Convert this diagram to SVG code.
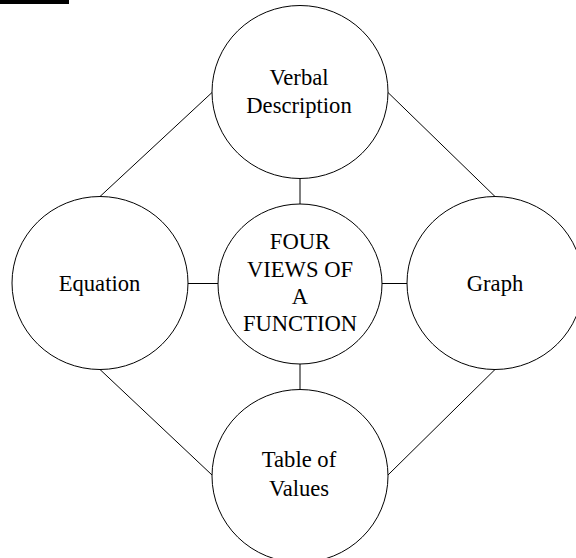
<svg xmlns="http://www.w3.org/2000/svg" width="576" height="558" viewBox="0 0 576 558">
<style>
.n{fill:#fff;stroke:#000;stroke-width:1}
.t{font-family:"Liberation Serif","Times New Roman",serif;font-size:22.6px;fill:#000;text-anchor:middle}
.c line{stroke:#000;stroke-width:1}
</style>
<rect x="0" y="0" width="576" height="558" fill="#fff"/>
<rect x="0" y="0" width="69" height="4" fill="#000"/>
<g class="c" id="connectors">
<line x1="300" y1="178.5" x2="300" y2="204"/>
<line x1="218" y1="283.5" x2="188" y2="283.5"/>
<line x1="382" y1="283.5" x2="407" y2="283.5"/>
<line x1="300" y1="364" x2="300" y2="389.5"/>
<line x1="212" y1="92.5" x2="100" y2="196.5"/>
<line x1="388" y1="92.5" x2="495" y2="196.5"/>
<line x1="100" y1="369.5" x2="212" y2="475"/>
<line x1="495" y1="369.5" x2="388" y2="475"/>
</g>
<g id="verbal">
<ellipse class="n" cx="300" cy="92" rx="88" ry="86.5"/>
<text class="t" x="299" y="85">Verbal</text>
<text class="t" x="299" y="112.5">Description</text>
</g>
<g id="equation">
<ellipse class="n" cx="100" cy="283" rx="88" ry="86.5"/>
<text class="t" x="99.5" y="291">Equation</text>
</g>
<g id="center">
<ellipse class="n" cx="300" cy="284" rx="82" ry="80"/>
<text class="t" x="300" y="249">FOUR</text>
<text class="t" x="300" y="276.5">VIEWS OF</text>
<text class="t" x="300" y="304">A</text>
<text class="t" x="300" y="331">FUNCTION</text>
</g>
<g id="graph">
<ellipse class="n" cx="495" cy="283" rx="88" ry="86.5"/>
<text class="t" x="495" y="291">Graph</text>
</g>
<g id="table">
<ellipse class="n" cx="300" cy="476" rx="88" ry="86.5"/>
<text class="t" x="299" y="467">Table of</text>
<text class="t" x="299" y="495.5">Values</text>
</g>
</svg>
